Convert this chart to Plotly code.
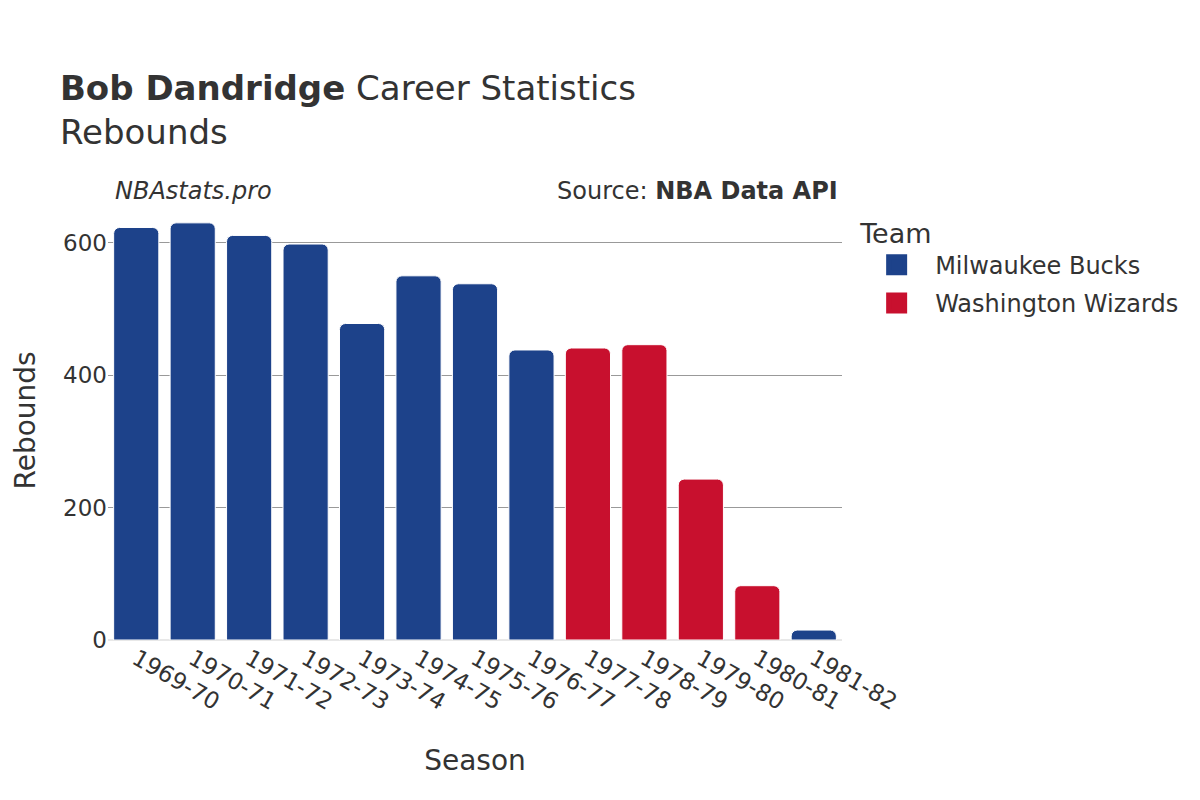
import plotly.graph_objects as go

seasons_all = ["1969-70", "1970-71", "1971-72", "1972-73", "1973-74", "1974-75", "1975-76",
               "1976-77", "1977-78", "1978-79", "1979-80", "1980-81", "1981-82"]

bucks_seasons = ["1969-70", "1970-71", "1971-72", "1972-73", "1973-74", "1974-75", "1975-76",
                 "1976-77", "1981-82"]
bucks_reb = [623, 630, 611, 598, 478, 550, 538, 438, 15]

wiz_seasons = ["1977-78", "1978-79", "1979-80", "1980-81"]
wiz_reb = [441, 446, 243, 82]

teams = ["Milwaukee Bucks", "Washington Wizards"]
team_colors = ["#1D428A", "#C8102E"]

FONT = "DejaVu Sans"
TXT = "#333333"

fig = go.Figure()
fig.add_trace(go.Bar(x=bucks_seasons, y=bucks_reb, name=teams[0], showlegend=False,
                     marker=dict(color=team_colors[0], line=dict(color="white", width=1))))
fig.add_trace(go.Bar(x=wiz_seasons, y=wiz_reb, name=teams[1], showlegend=False,
                     marker=dict(color=team_colors[1], line=dict(color="white", width=1))))
# legend entries (larger swatches)
for i, (t, c) in enumerate(zip(teams, team_colors)):
    fig.add_trace(go.Scatter(x=[None], y=[None], mode="markers", name=t, legendgroup=t,
                             marker=dict(symbol="square", size=16, color=c,
                                         line=dict(color=c, width=5))))

fig.update_layout(
    width=1200, height=800,
    paper_bgcolor="white", plot_bgcolor="white",
    font=dict(family=FONT, color=TXT, size=22),
    barmode="relative", bargap=0.2, barcornerradius=6,
    margin=dict(l=100, r=366, t=193, b=168),
    title=dict(text="<b>Bob Dandridge</b> Career Statistics<br>Rebounds",
               x=0.0433, xanchor="left", y=0.885, yanchor="top",
               font=dict(size=34, family=FONT, color=TXT)),
    xaxis=dict(title=dict(text="Season", font=dict(size=28), standoff=36), type="category",
               categoryorder="array", categoryarray=seasons_all, automargin=False,
               tickangle=30, tickfont=dict(size=23), showgrid=False),
    yaxis=dict(tickfont=dict(size=23), automargin=False,
               range=[0, 663], showgrid=True, gridcolor="#999999", gridwidth=1,
               zeroline=True, zerolinecolor="#e8e8e8", zerolinewidth=2,
               tickvals=[0, 200, 400, 600]),
    legend=dict(title=dict(text="Team", font=dict(size=27)), font=dict(size=24),
                x=1.022, y=0.985, xanchor="left", yanchor="top", tracegroupgap=4,
                itemwidth=67),
    annotations=[
        dict(text="Rebounds", textangle=-90, x=0, y=0.5, xref="paper", yref="paper",
             xanchor="center", yanchor="middle", showarrow=False, font=dict(size=28),
             xshift=-83),
        dict(text="<i>NBAstats.pro</i>", x=0, y=1, xref="paper", yref="paper",
             xanchor="left", yanchor="bottom", showarrow=False, font=dict(size=24),
             xshift=5, yshift=-6),
        dict(text="Source: <b>NBA Data API</b>", x=1, y=1, xref="paper", yref="paper",
             xanchor="right", yanchor="bottom", showarrow=False, font=dict(size=24),
             xshift=-2, yshift=-6),
    ],
)

fig.write_html("out.html")
